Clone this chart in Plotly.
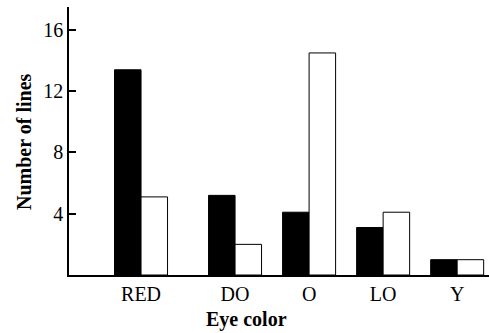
import plotly.graph_objects as go

categories = ["RED", "DO", "O", "LO", "Y"]
series_black = [13.4, 5.2, 4.1, 3.1, 1.0]
series_white = [5.1, 2.0, 14.5, 4.1, 1.0]
y_ticks = [4, 8, 12, 16]

# group positions along the x axis (RED group sits a bit further left)
x_pos = [0.73, 2, 3, 4, 5]
bw = 0.358

fig = go.Figure()
fig.add_trace(go.Bar(x=x_pos, y=series_black, width=bw, offset=-bw,
                     marker=dict(color="black", line=dict(color="black", width=1)),
                     showlegend=False))
fig.add_trace(go.Bar(x=x_pos, y=series_white, width=bw, offset=0,
                     marker=dict(color="white", line=dict(color="black", width=1)),
                     showlegend=False))

font_family = "Liberation Serif, Times New Roman, serif"
fig.update_layout(
    width=489, height=333,
    margin=dict(l=69, r=0, t=7, b=58),
    paper_bgcolor="white", plot_bgcolor="white",
    barmode="overlay",
    font=dict(family=font_family, size=20, color="black"),
    xaxis=dict(
        range=[-0.243, 5.43], automargin=False,
        tickmode="array", tickvals=x_pos, ticktext=categories,
        showgrid=False, zeroline=False, showline=True,
        linecolor="black", linewidth=2, ticks="",
        tickfont=dict(size=20),
    ),
    yaxis=dict(
        range=[0, 17.5], automargin=False,
        tickmode="array", tickvals=y_ticks,
        showgrid=False, zeroline=False, showline=True,
        linecolor="black", linewidth=1.5,
        ticks="inside", ticklen=7, tickwidth=1.5, tickcolor="black",
        tickfont=dict(size=20),
    ),
    annotations=[
        dict(text="<b>Eye color</b>", xref="paper", yref="paper",
             x=(246 - 69) / 420, y=0, yshift=-44, showarrow=False,
             xanchor="center", yanchor="middle", font=dict(size=20)),
        dict(text="<b>Number of lines</b>", xref="paper", yref="paper",
             x=0, xshift=-45, y=(274 - 141) / 268, textangle=-90, showarrow=False,
             xanchor="center", yanchor="middle", font=dict(size=20)),
    ],
)

fig.write_html("out.html", config={"displayModeBar": False},
               post_script="document.body.style.margin='0';document.body.style.overflow='hidden';")
